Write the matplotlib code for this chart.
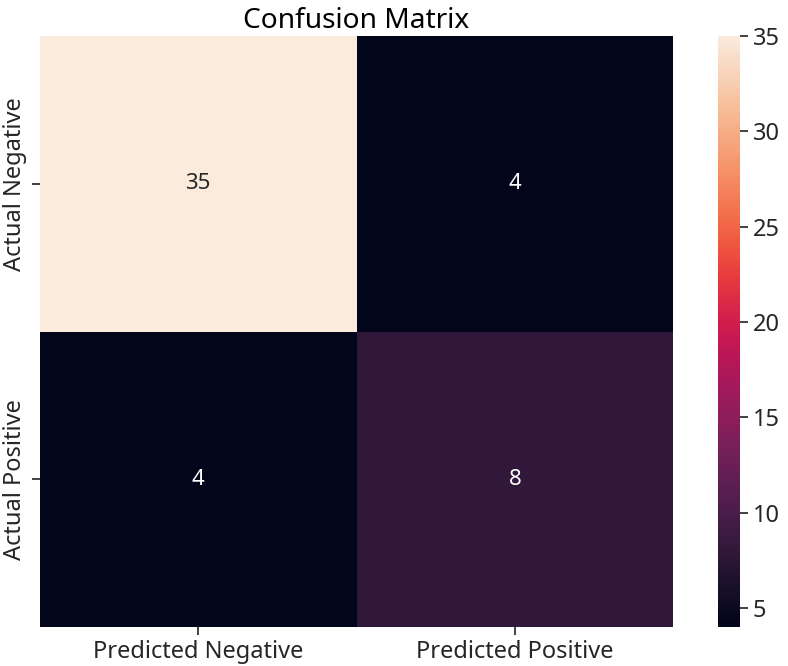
import matplotlib
matplotlib.use("Agg")
import matplotlib.pyplot as plt
import seaborn as sns
import numpy as np

# DATA
row_labels = ["Actual Negative", "Actual Positive"]
col_labels = ["Predicted Negative", "Predicted Positive"]
counts = np.array([[35, 4],
                   [4, 8]])

plt.rcParams["font.family"] = ["Noto Sans", "DejaVu Sans"]

W, H = 788, 666
fig = plt.figure(figsize=(W / 100, H / 100), dpi=100)
ax  = fig.add_axes([40 / W, 1 - 627 / H, (673 - 40) / W, (627 - 36) / H])
cax = fig.add_axes([718 / W, 1 - 627 / H, 22 / W, (627 - 36) / H])

sns.heatmap(counts, annot=True, fmt="d", cmap="rocket",
            xticklabels=col_labels, yticklabels=row_labels,
            ax=ax, cbar_ax=cax, annot_kws={"size": 16})

ax.set_title("Confusion Matrix", fontsize=20.2)
ax.tick_params(axis="both", labelsize=17, length=5.5, width=1.3, color="#333333")
cax.tick_params(labelsize=17, length=5.5, width=1.3, color="#333333")
for lab in ax.get_xticklabels() + ax.get_yticklabels() + cax.get_yticklabels():
    lab.set_color("#262626")

fig.savefig("out.png", dpi=100)
